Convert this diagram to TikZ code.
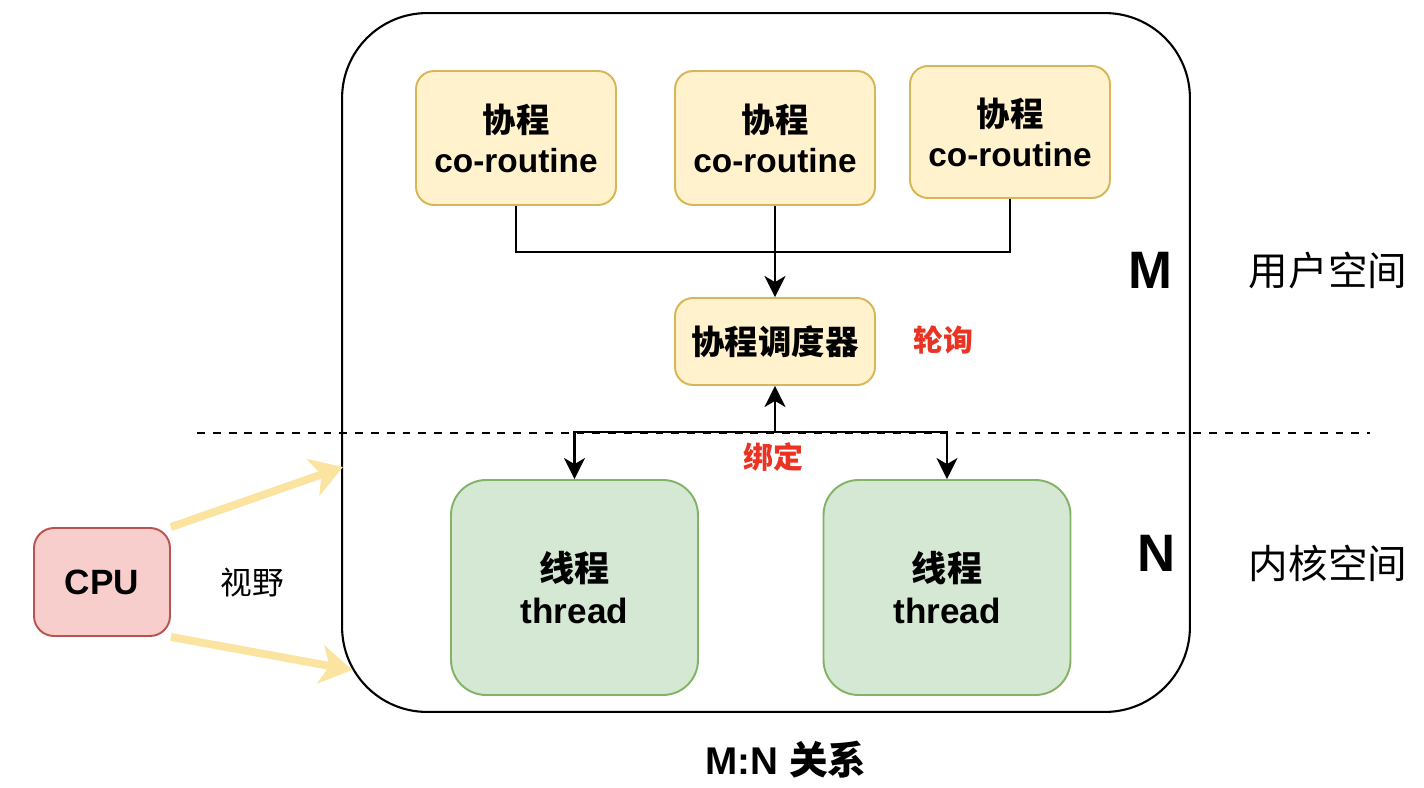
\documentclass[tikz,border=0pt]{standalone}
\usepackage{fontspec}
\setmainfont{Liberation Sans}
\newfontfamily\cjk{Noto Sans CJK SC}
\usetikzlibrary{arrows.meta}
\definecolor{yfill}{HTML}{FFF2CC}
\definecolor{ydraw}{HTML}{D6B656}
\definecolor{gfill}{HTML}{D5E8D4}
\definecolor{gdraw}{HTML}{82B366}
\definecolor{rfill}{HTML}{F8CECC}
\definecolor{rdraw}{HTML}{B85450}
\definecolor{redtxt}{HTML}{EA3323}
\definecolor{yarrow}{HTML}{FBE4A0}
\tikzset{
  coro/.style={draw=ydraw, fill=yfill, line width=1.1pt, rounded corners=0.36cm,
    minimum width=4cm, minimum height=2.68cm, align=center, inner sep=0pt,
    font=\fontsize{19pt}{22.7pt}\selectfont\bfseries},
  thr/.style={draw=gdraw, fill=gfill, line width=1.1pt, rounded corners=0.7cm,
    minimum width=4.94cm, minimum height=4.3cm, align=center, inner sep=0pt,
    font=\fontsize{20pt}{23.8pt}\selectfont\bfseries},
  conn/.style={line width=1.4pt, black},
  arr/.style={conn, -{Stealth[length=12pt,width=12pt,inset=3.5pt]}},
  yarr/.style={yarrow, line width=4.5pt, -{Stealth[length=18pt,width=22pt,inset=5pt]}},
  redlbl/.style={text=redtxt, font=\fontsize{17pt}{20pt}\selectfont\cjk\bfseries},
  side/.style={font=\fontsize{22.5pt}{26pt}\selectfont\cjk},
  big/.style={font=\fontsize{30pt}{34pt}\selectfont\bfseries},
}
\begin{document}
\begin{tikzpicture}[x=0.02cm, y=-0.02cm]
\useasboundingbox (0,0) rectangle (1424,788);
% outer frame
\node[draw, line width=1.2pt, rounded corners=1.7cm, minimum width=16.96cm, minimum height=13.98cm] (frame) at (766,362.5) {};
% coroutines
\node[coro] (c1) at (516,138) {{\cjk 协程}\\co-routine};
\node[coro] (c2) at (775,138) {{\cjk 协程}\\co-routine};
\node[coro, minimum height=2.64cm] (c3) at (1010,132) {{\cjk 协程}\\co-routine};
% scheduler
\node[coro, minimum height=1.74cm] (s) at (775,341.5) {\cjk 协程调度器};
% threads
\node[thr] (t1) at (574.5,587.5) {{\cjk 线程}\\thread};
\node[thr] (t2) at (947,587.5) {{\cjk 线程}\\thread};
% CPU
\node[draw=rdraw, fill=rfill, line width=1.1pt, rounded corners=0.4cm, minimum width=2.72cm, minimum height=2.16cm,
  font=\fontsize{20pt}{24pt}\selectfont\bfseries] (cpu) at (102,582) {CPU};
% connectors
\coordinate (j) at (775,252);
\draw[conn] (c1.south) |- (j);
\draw[conn] (c3.south) |- (j);
\draw[arr] (c2.south) -- (s.north);
% dashed divider
\coordinate (dl) at (197,433);
\coordinate (dr) at (1370,433);
\draw[line width=0.9pt, dash pattern=on 4.5pt off 4.5pt] (dl) -- (dr);
% binding
\coordinate (b) at (775,432);
\draw[arr] (b) -- (s.south);
\draw[arr] (b) -| (t1.north);
\draw[arr] (b) -| (t2.north);
% labels
\node[redlbl] (bind) at (773,457) {绑定};
\node[redlbl] (poll) at (943,340) {轮询};
\node[big] (M) at (1150,270) {M};
\node[big] (N) at (1157,553) {N};
\node[side] (us) at (1328,270) {用户空间};
\node[side] (ks) at (1328,563) {内核空间};
\node[font=\fontsize{18pt}{21pt}\selectfont\cjk] (view) at (252,583) {视野};
\node[font=\fontsize{22pt}{26pt}\selectfont\bfseries] (title) at (786,760) {M:N {\cjk 关系}};
% view arrows
\coordinate (v1) at (343,467);
\coordinate (v2) at (352,670);
\draw[yarr] (cpu.north east) -- (v1);
\draw[yarr] (cpu.south east) -- (v2);
\end{tikzpicture}
\end{document}
